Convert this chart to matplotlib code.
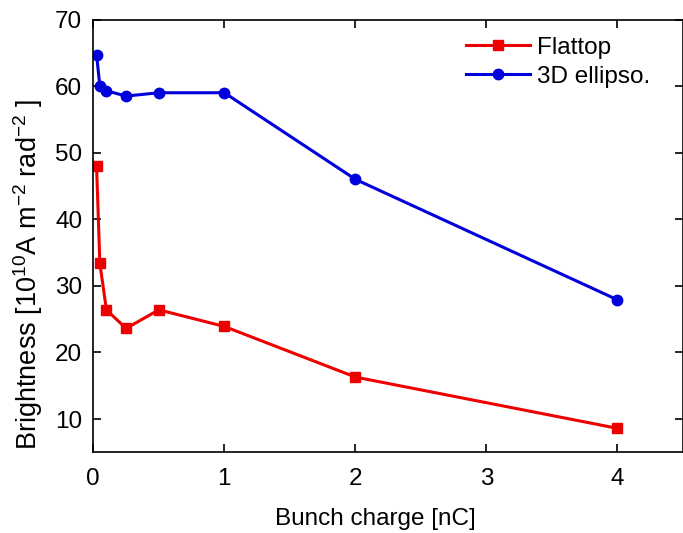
import matplotlib
matplotlib.use("Agg")
import matplotlib.pyplot as plt

plt.rcParams['font.family'] = ['Liberation Sans', 'DejaVu Sans']
plt.rcParams['mathtext.fontset'] = 'custom'
plt.rcParams['mathtext.rm'] = 'Liberation Sans'
plt.rcParams['mathtext.default'] = 'regular'

# bunch charge in nC
charge = [0.025, 0.05, 0.1, 0.25, 0.5, 1, 2, 4]
# brightness in 1e10 A m^-2 rad^-2
flattop = [48.0, 33.4, 26.4, 23.6, 26.4, 23.9, 16.3, 8.6]
ellipso = [64.7, 60.0, 59.3, 58.5, 59.0, 59.0, 46.0, 27.9]

xticks = [0, 1, 2, 3, 4]
yticks = [10, 20, 30, 40, 50, 60, 70]

fig = plt.figure(figsize=(6.83, 5.33), dpi=100)
ax = fig.add_axes([0.1366, 0.1514, 0.8634, 0.812])

ax.plot(charge, flattop, color='#ee0000', lw=2.2, marker='s', ms=6.5, label='Flattop')
ax.plot(charge, ellipso, color='#0000dd', lw=2.2, marker='o', ms=7.5, label='3D ellipso.')

ax.set_xlim(0, 4.5)
ax.set_ylim(5, 70)
ax.set_xticks(xticks)
ax.set_yticks(yticks)
ax.tick_params(direction='in', length=6, width=1.2, top=True, right=True,
               labelsize=17.5)
ax.tick_params(axis='x', pad=11)
ax.tick_params(axis='y', pad=8)
for s in ax.spines.values():
    s.set_linewidth(1.2)

ax.set_xlabel('Bunch charge [nC]', fontsize=17.5)
ax.xaxis.set_label_coords(0.478, -0.128)
ax.set_ylabel('Brightness [10$^{10}$A m$^{-2}$ rad$^{-2}$ ]', fontsize=19.5)
ax.yaxis.set_label_coords(-0.082, 0.41)

ax.legend(loc='upper right', frameon=False, fontsize=17.5, handlelength=2.6,
          handletextpad=0.3, labelspacing=0.3, borderaxespad=0.3,
          bbox_to_anchor=(0.973, 1.0))

fig.savefig('out.png', dpi=100)
